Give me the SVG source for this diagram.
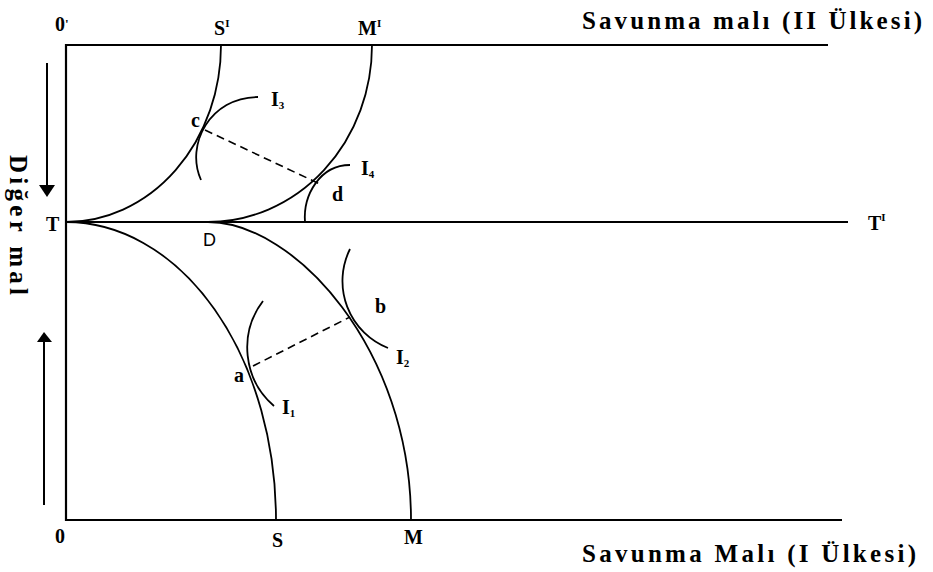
<svg xmlns="http://www.w3.org/2000/svg" width="933" height="572" viewBox="0 0 933 572">
<style>
.ax{stroke:#000;stroke-width:2.2;fill:none}
.cv{stroke:#000;stroke-width:1.8;fill:none}
.ds{stroke:#000;stroke-width:1.6;fill:none;stroke-dasharray:8,5}
.lb{font-family:"Liberation Serif","Times New Roman",serif;font-weight:bold;font-size:20px;fill:#000}
.sm{font-size:11px}
.tt{font-family:"Liberation Serif","Times New Roman",serif;font-weight:bold;font-size:25px;fill:#000}
.dl{font-family:"Liberation Sans",Arial,sans-serif;font-size:18px;fill:#000}
</style>
<rect width="933" height="572" fill="#fff"/>
<g id="axes">
<line class="ax" x1="66" y1="45" x2="828" y2="45"/>
<line class="ax" x1="66" y1="222" x2="848" y2="222"/>
<line class="ax" x1="66" y1="520" x2="842" y2="520"/>
<line class="ax" x1="66" y1="44" x2="66" y2="521"/>
</g>
<g id="curves">
<path id="curve-S1" class="cv" d="M66,222 A155,177 0 0 0 221,45"/>
<path id="curve-M1" class="cv" d="M208,222 A164,177 0 0 0 372,45"/>
<path id="curve-S" class="cv" d="M66,222 A210,298 0 0 1 276,520"/>
<path id="curve-M" class="cv" d="M208,222 C295,222 411,350 411,520"/>
<path id="I3" class="cv" d="M258,97 C210,97 185,145 201,180"/>
<path id="I4" class="cv" d="M305,222 C303,195 320,165 350,165"/>
<path id="I2" class="cv" d="M350,249 A72,72 0 0 0 388,348"/>
<path id="I1" class="cv" d="M263,301 A77,77 0 0 0 274,406"/>
</g>
<g id="connectors">
<line class="ds" x1="205" y1="130" x2="322" y2="185"/>
<line class="ds" x1="253" y1="366" x2="350" y2="317"/>
</g>
<g id="arrows">
<line x1="47" y1="63" x2="47" y2="187" stroke="#000" stroke-width="2"/>
<polygon points="39,185 55,185 47,197" fill="#000"/>
<line x1="44" y1="340" x2="44" y2="505" stroke="#000" stroke-width="2"/>
<polygon points="37,342 52,342 44,332" fill="#000"/>
</g>
<g id="labels">
<text class="lb" x="55" y="31">0<tspan font-size="13" dy="-3">'</tspan></text>
<text class="lb" x="214" y="35">S<tspan class="sm" dy="-8" font-size="9">I</tspan></text>
<text class="lb" x="358" y="35">M<tspan class="sm" dy="-8" font-size="9">I</tspan></text>
<text class="lb" x="46" y="231">T</text>
<text class="dl" x="203" y="246">D</text>
<text class="lb" x="191" y="127">c</text>
<text class="lb" x="271" y="106">I<tspan class="sm" dy="3">3</tspan></text>
<text class="lb" x="361" y="175">I<tspan class="sm" dy="3">4</tspan></text>
<text class="lb" x="332" y="201">d</text>
<text class="lb" x="375" y="313">b</text>
<text class="lb" x="396" y="364">I<tspan class="sm" dy="3">2</tspan></text>
<text class="lb" x="234" y="382">a</text>
<text class="lb" x="282" y="414">I<tspan class="sm" dy="3">1</tspan></text>
<text class="lb" x="55" y="543">0</text>
<text class="lb" x="272" y="547">S</text>
<text class="lb" x="404" y="544">M</text>
<text class="lb" x="868" y="230">T<tspan class="sm" dy="-9" font-size="10">I</tspan></text>
<text class="tt" x="582" y="29" textLength="340" lengthAdjust="spacing">Savunma malı (II Ülkesi)</text>
<text class="tt" x="582" y="562" textLength="334" lengthAdjust="spacing">Savunma Malı (I Ülkesi)</text>
<text class="tt" transform="translate(10,155) rotate(90)" textLength="140" lengthAdjust="spacing">Diğer mal</text>
</g>
</svg>
